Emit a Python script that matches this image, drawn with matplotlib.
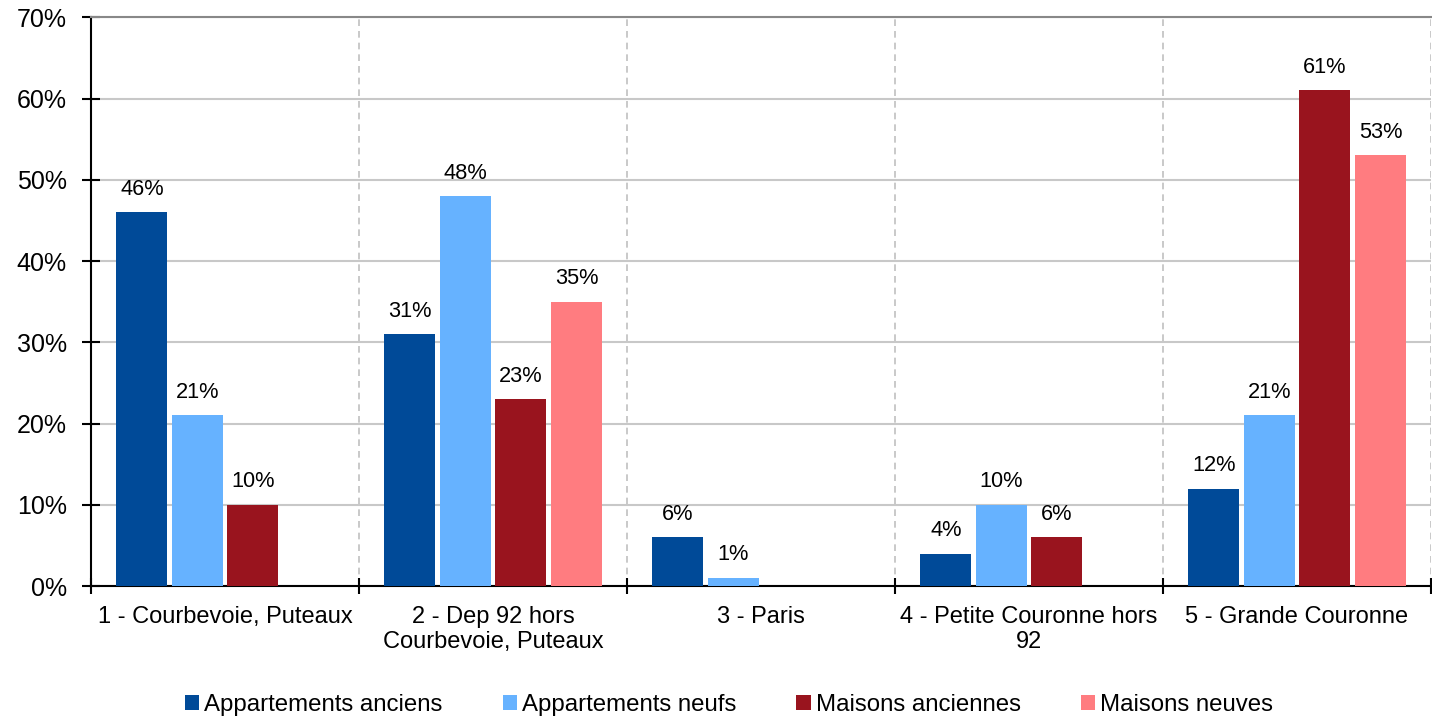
import matplotlib
matplotlib.use("Agg")
import matplotlib.pyplot as plt
import numpy as np

plt.rcParams['font.family'] = ['Liberation Sans', 'DejaVu Sans']

categories = ["1 - Courbevoie, Puteaux", "2 - Dep 92 hors\nCourbevoie, Puteaux", "3 - Paris",
              "4 - Petite Couronne hors\n92", "5 - Grande Couronne"]
series_names = ["Appartements anciens", "Appartements neufs", "Maisons anciennes", "Maisons neuves"]
appart_anciens = [46, 31, 6, 4, 12]
appart_neufs = [21, 48, 1, 10, 21]
maisons_anciennes = [10, 23, None, 6, 61]
maisons_neuves = [None, 35, None, None, 53]
colors = ["#004A98", "#66B2FF", "#99141E", "#FF7C80"]
yticks = [0, 10, 20, 30, 40, 50, 60, 70]

series = [appart_anciens, appart_neufs, maisons_anciennes, maisons_neuves]

fig = plt.figure(figsize=(14.32, 7.2), dpi=100)
ax = fig.add_axes([0.0635, 0.186, 0.9358, 0.790])

x = np.arange(len(categories))
offsets = [-0.31, -0.103, 0.104, 0.313]
width = 0.19
for s, vals, col, off in zip(series_names, series, colors, offsets):
    v = np.array([np.nan if a is None else a for a in vals], dtype=float)
    ax.bar(x + off, v, width=width, color=col, label=s, zorder=3)
    for xi, val in zip(x, vals):
        if val is None:
            continue
        ax.annotate(f"{val}%", (xi + off, val), xytext=(0, 9), textcoords="offset points",
                    ha="center", va="bottom", fontsize=15.7, color="black")

ax.set_xlim(-0.5, len(categories) - 0.5)
ax.set_ylim(0, 70)
ax.set_yticks(yticks)
ax.set_yticklabels([f"{t}%" for t in yticks], fontsize=18)
ax.tick_params(axis='y', direction='inout', length=13, width=1.5, pad=11)

bounds = np.arange(len(categories) + 1) - 0.5
ax.set_xticks(bounds)
ax.set_xticklabels([""] * len(bounds))
ax.set_xticks(x, minor=True)
ax.set_xticklabels(categories, minor=True, fontsize=17, linespacing=1.2)
ax.tick_params(axis='x', which='major', direction='inout', length=11, width=1.5)
ax.tick_params(axis='x', which='minor', length=0, pad=14)

ax.yaxis.grid(True, color="#C8C8C8", linewidth=1.5, zorder=0)
for b in bounds[1:]:
    ax.axvline(b, color="#C0C0C0", linestyle=(0, (4, 3)), linewidth=1.2, zorder=0)

ax.spines['left'].set_linewidth(1.5)
ax.spines['bottom'].set_linewidth(1.5)
ax.spines['top'].set_color("#888888")
ax.spines['top'].set_linewidth(1.5)
ax.spines['right'].set_visible(False)

fig.legend(loc="center", bbox_to_anchor=(0.509, 0.021), ncol=4, frameon=False, fontsize=17.3,
           handlelength=0.6, handleheight=0.6, handletextpad=0.2, columnspacing=2.5)

fig.savefig("out.png", dpi=100)
